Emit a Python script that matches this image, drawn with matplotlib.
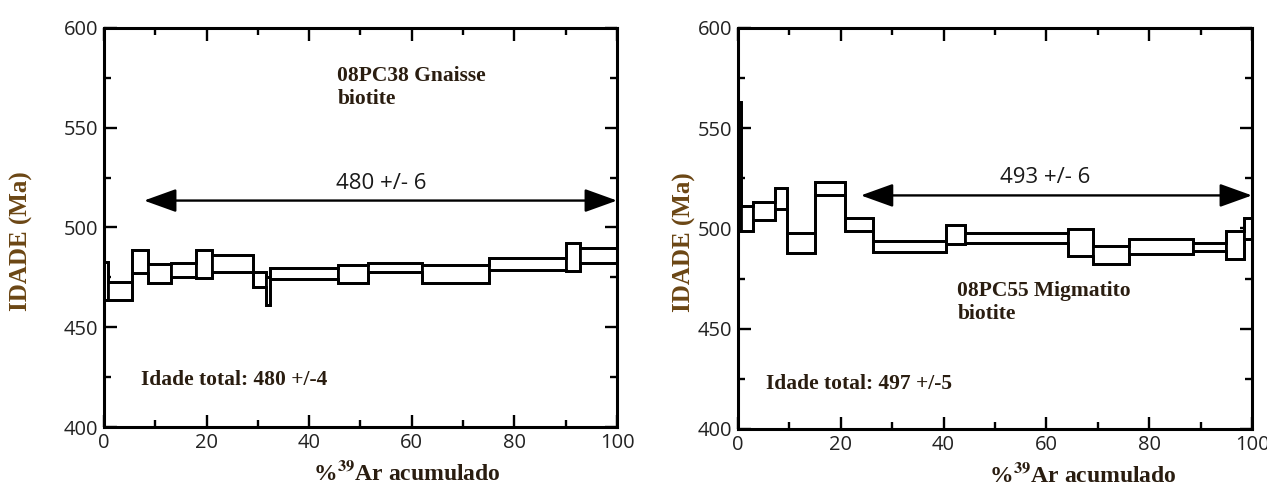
import numpy as np
import matplotlib.pyplot as plt
from matplotlib.ticker import MultipleLocator

plt.rcParams['mathtext.fontset'] = 'stix'

# 08PC38 - limites dos degraus (% 39Ar acumulado), idade e erro (Ma)
bordas_38 = [0, 0.8, 5.4, 8.6, 13, 17.9, 21, 29, 31.5, 32.3, 45.7, 51.4, 62, 75, 90, 92.8, 100]
idade_38 = [473, 468, 483, 477, 478.5, 481.5, 482, 474, 468, 477, 476.5, 480, 476.5, 481.5, 485, 486]
erro_38 = [9.5, 4.5, 5.7, 4.7, 3.5, 7, 4.3, 3.7, 7, 2.7, 4.5, 2.3, 4.5, 3, 7, 3.7]
plato_38 = [7.8, 100]
plato_y_38 = 513.5

# 08PC55
bordas_55 = [0, 0.6, 2.9, 7.2, 9.6, 14.9, 20.9, 26.2, 40.5, 44.2, 64.2, 69, 76, 88.6, 94.9, 98.4, 100]
idade_55 = [531, 505, 508.5, 515, 493, 520, 502, 491, 497, 495.5, 493, 487, 491, 491, 492, 500]
erro_55 = [32, 6, 4.5, 5.3, 5, 3.3, 3, 2.8, 4.8, 2.5, 6.7, 4.5, 3.7, 2, 7, 5]
plato_55 = [23.9, 100]
plato_y_55 = 516.5

cor_txt = '#2a1d10'
cor_lab = '#6b4614'


def espectro(ax, bordas, idade, erro):
    bordas = np.array(bordas)
    idade = np.array(idade)
    erro = np.array(erro)
    lo = idade - erro
    hi = idade + erro
    ax.bar(bordas[:-1], 2 * erro, width=np.diff(bordas), bottom=lo, align='edge',
           facecolor='white', edgecolor='black', linewidth=2.0, zorder=2)
    ax.stairs(hi, bordas, baseline=None, color='black', linewidth=2.0, zorder=3)
    ax.stairs(lo, bordas, baseline=None, color='black', linewidth=2.0, zorder=3)


def eixos(ax):
    ax.set_xlim(0, 100)
    ax.set_ylim(400, 600)
    ax.xaxis.set_major_locator(MultipleLocator(20))
    ax.xaxis.set_minor_locator(MultipleLocator(10))
    ax.yaxis.set_major_locator(MultipleLocator(50))
    ax.yaxis.set_minor_locator(MultipleLocator(25))
    ax.tick_params(which='both', direction='in', top=True, right=True,
                   width=1.7, labelsize=14.5, labelcolor='#222222')
    ax.tick_params(which='major', length=9, pad=4)
    ax.tick_params(which='minor', length=5)
    for lb in ax.get_xticklabels() + ax.get_yticklabels():
        lb.set_family('Open Sans')
    for s in ax.spines.values():
        s.set_linewidth(2.2)
    ax.set_xlabel(r'%$^{\mathbf{39}}$Ar acumulado', family='Liberation Serif',
                  fontweight='bold', fontsize=17, color=cor_txt)
    ax.set_ylabel('IDADE (Ma)', family='Liberation Serif', fontweight='bold',
                  fontsize=18, color=cor_lab)


def seta(ax, plato, y, texto, xt, yt):
    ax.annotate('', xy=(plato[0], y), xytext=(plato[1], y),
                arrowprops=dict(arrowstyle='<|-|>,head_length=1.0,head_width=0.36',
                                color='black', lw=1.7, shrinkA=0, shrinkB=0,
                                mutation_scale=20),
                annotation_clip=False, zorder=4)
    ax.text(xt, yt, texto, family='Open Sans', fontsize=16, color='#1a1a1a',
            ha='center', va='center')


fig = plt.figure(figsize=(12.67, 4.9), dpi=100)

ax1 = fig.add_axes([104 / 1267, 1 - 427 / 490, 513 / 1267, 399 / 490])
espectro(ax1, bordas_38, idade_38, erro_38)
eixos(ax1)
seta(ax1, plato_38, plato_y_38, '480 +/- 6', 54, 522)
ax1.text(45.5, 570, '08PC38 Gnaisse\nbiotite', family='Liberation Serif', fontweight='bold',
         fontsize=15.5, color=cor_txt, ha='left', va='center', linespacing=1.2)
ax1.text(7.2, 423.5, 'Idade total: 480 +/-4', family='Liberation Serif', fontweight='bold',
         fontsize=15.5, color=cor_txt, ha='left', va='center')
ax1.xaxis.set_label_coords(0.59, -0.085)
ax1.yaxis.set_label_coords(-0.138, 0.466)

ax2 = fig.add_axes([738 / 1267, 1 - 429 / 490, 514 / 1267, 401 / 490])
espectro(ax2, bordas_55, idade_55, erro_55)
eixos(ax2)
seta(ax2, plato_55, plato_y_55, '493 +/- 6', 59.7, 525.5)
ax2.text(42.7, 463, '08PC55 Migmatito\nbiotite', family='Liberation Serif', fontweight='bold',
         fontsize=15.5, color=cor_txt, ha='left', va='center', linespacing=1.2)
ax2.text(5.5, 422.5, 'Idade total: 497 +/-5', family='Liberation Serif', fontweight='bold',
         fontsize=15.5, color=cor_txt, ha='left', va='center')
ax2.xaxis.set_label_coords(0.67, -0.085)
ax2.yaxis.set_label_coords(-0.082, 0.466)

fig.savefig('out.png', dpi=100)
